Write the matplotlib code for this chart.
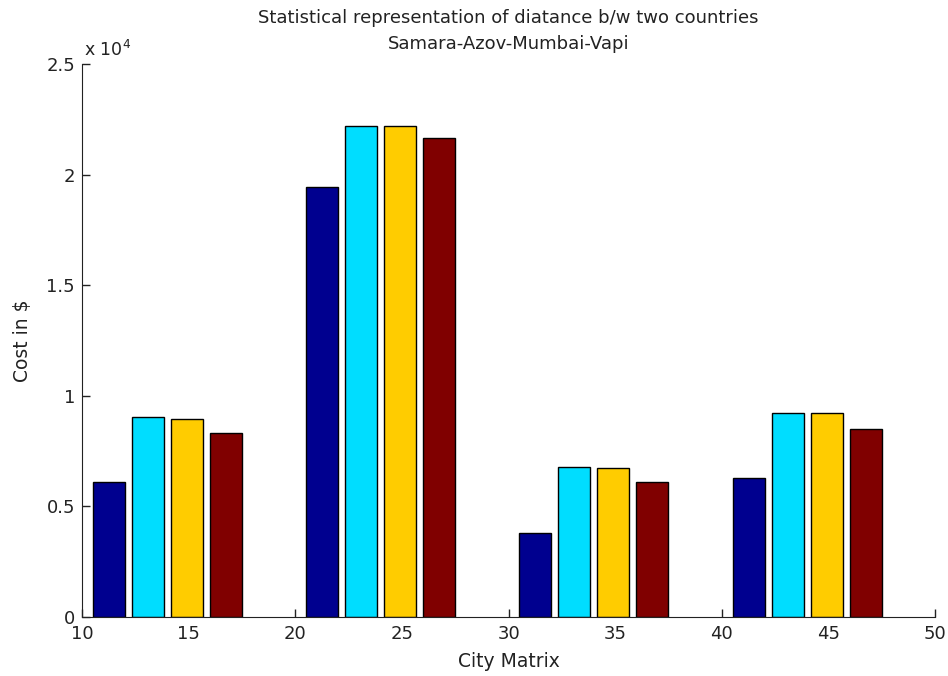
import numpy as np
import matplotlib.pyplot as plt
from matplotlib.ticker import FuncFormatter

plt.rcParams['font.family'] = ['DejaVu Sans']

# datos
grupos = [14, 24, 34, 44]
serie1 = [6100, 19450, 3800, 6300]
serie2 = [9020, 22200, 6800, 9220]
serie3 = [8940, 22200, 6730, 9220]
serie4 = [8310, 21660, 6090, 8510]
colores = ['#00008F', '#00DDFF', '#FFCC00', '#800000']

fig = plt.figure(figsize=(9.48, 6.76), dpi=100)
ax = fig.add_axes([0.0865, 0.0873, 0.9, 0.818])

series = [serie1, serie2, serie3, serie4]
paso = 1.83
ancho = 1.5
x = np.array(grupos, dtype=float)
for i, s in enumerate(series):
    ax.bar(x + (i - 1.5) * paso, s, width=ancho, color=colores[i],
           edgecolor='black', linewidth=1.0, zorder=2)

ax.set_xlim(10, 50)
ax.set_ylim(0, 25000)
ax.set_xticks(np.arange(10, 51, 5))
ax.set_yticks(np.arange(0, 25001, 5000))
ax.yaxis.set_major_formatter(FuncFormatter(lambda v, p: '%g' % (v / 1e4)))

ax.spines['top'].set_visible(False)
ax.spines['right'].set_visible(False)
ax.spines['left'].set_color('#222222')
ax.spines['bottom'].set_color('#222222')
ax.tick_params(direction='in', length=6, width=1, colors='#222222',
               labelsize=13, labelcolor='#222222')
ax.tick_params(axis='x', pad=6)
ax.tick_params(axis='y', pad=5)

ax.text(0.002, 1.008, r'x 10$^4$', transform=ax.transAxes, fontsize=12.5,
        color='#222222', va='bottom', ha='left')

ax.set_title('Statistical representation of diatance b/w two countries\nSamara-Azov-Mumbai-Vapi',
             fontsize=13, color='#222222', linespacing=1.55, pad=11)
ax.set_xlabel('City Matrix', fontsize=13.5, color='#222222', labelpad=6)
ax.set_ylabel('Cost in $', fontsize=13.5, color='#222222', labelpad=10)

fig.savefig('out.png', dpi=100)
